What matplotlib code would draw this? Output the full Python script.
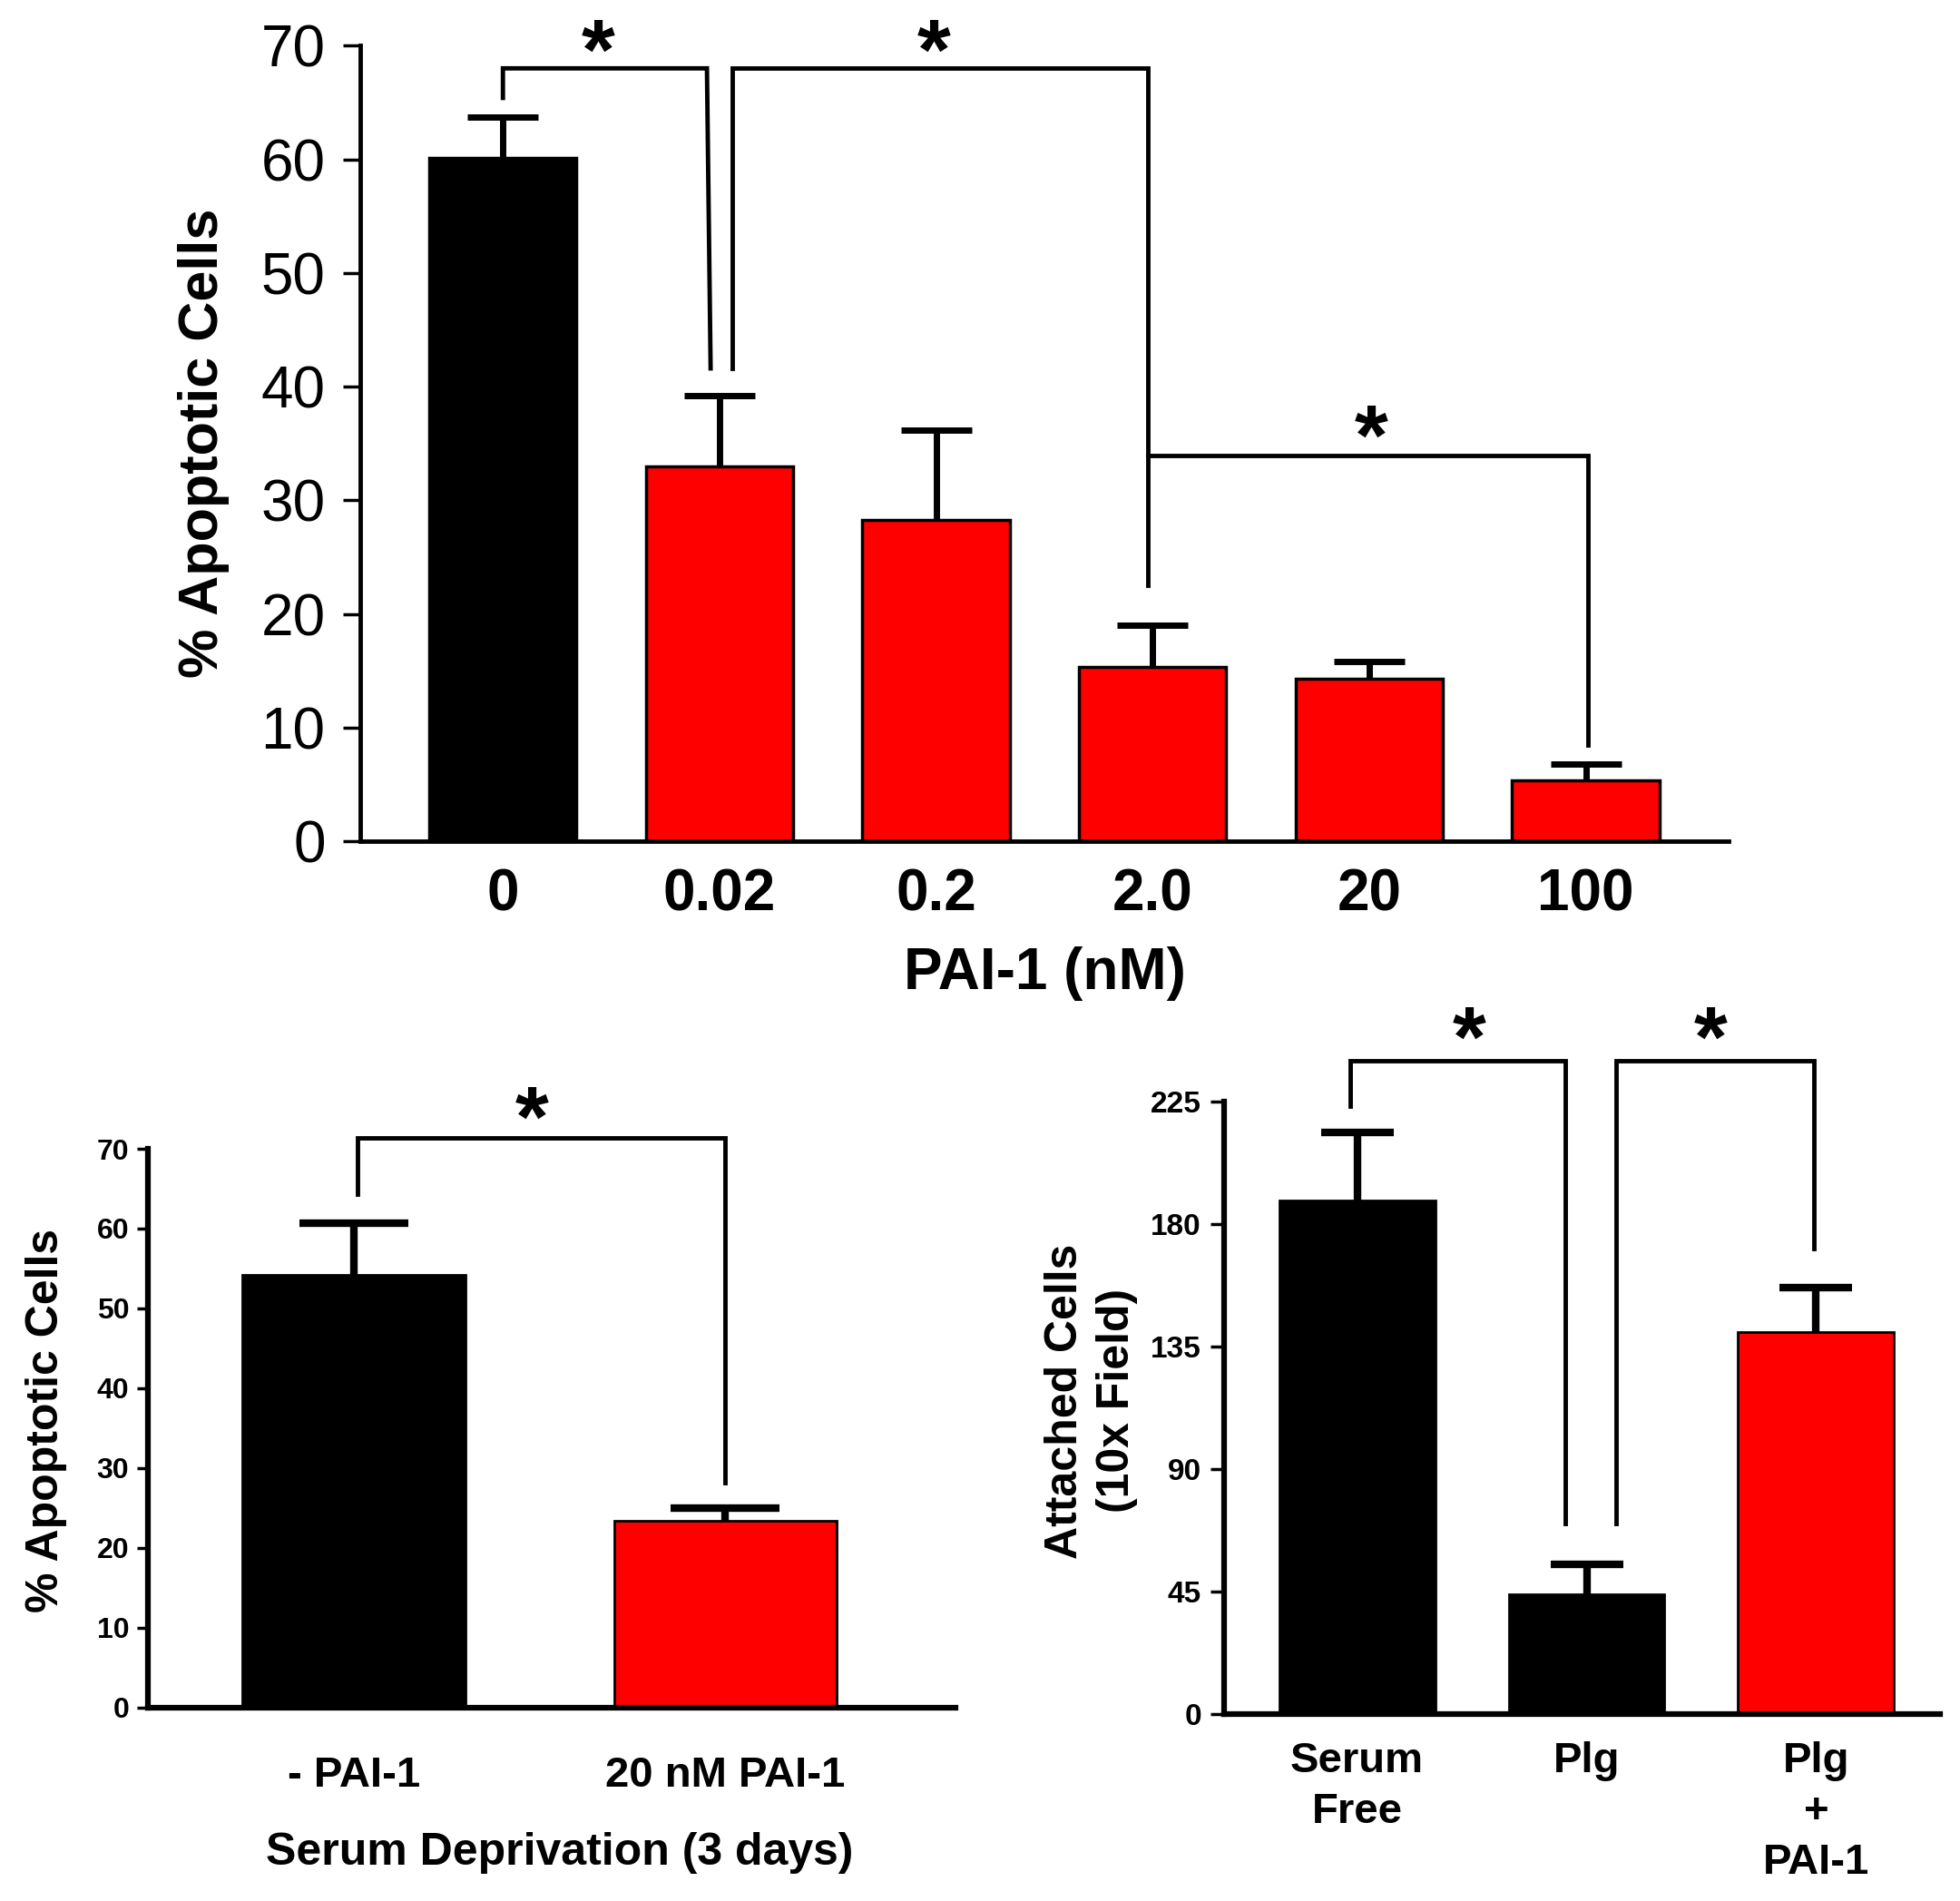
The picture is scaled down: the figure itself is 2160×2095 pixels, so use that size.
import matplotlib
matplotlib.use('Agg')
import matplotlib.pyplot as plt
import numpy as np

plt.rcParams['font.family'] = ['Liberation Sans', 'DejaVu Sans']

# top panel: apoptosis vs PAI-1 dose
conc_labels = ['0', '0.02', '0.2', '2.0', '20', '100']
apop_mean = [60.1, 33.0, 28.3, 15.3, 14.3, 5.35]
apop_err = [3.6, 6.2, 7.9, 3.7, 1.5, 1.45]

# bottom left: serum deprivation
serum_labels = ['- PAI-1', '20 nM PAI-1']
serum_mean = [54.2, 23.4]
serum_err = [6.5, 1.65]

# bottom right: attachment
attach_labels = ['Serum\nFree', 'Plg', 'Plg\n+\nPAI-1']
attach_mean = [188.5, 44.0, 140.2]
attach_err = [25.3, 11.0, 16.4]

RED = '#ff0000'


def draw_bars(ax, means, errs, colors, width, capsize, edge_lw, err_lw):
    x = np.arange(len(means))
    ax.bar(x, means, width, color=colors, edgecolor='black', linewidth=edge_lw, zorder=2)
    eb = ax.errorbar(x, means, yerr=[np.zeros(len(means)), errs], fmt='none',
                     ecolor='black', elinewidth=err_lw, capsize=capsize,
                     capthick=err_lw, zorder=3)
    eb[1][0].set_visible(False)  # only the upper cap


def bracket(ax, pts, lw):
    xs = [p[0] for p in pts]
    ys = [p[1] for p in pts]
    ax.plot(xs, ys, color='black', lw=lw, clip_on=False, zorder=4,
            solid_joinstyle='miter')


def star(ax, x, y, size):
    ax.annotate('*', (x, y), xytext=(0, -0.48 * size), textcoords='offset points',
                ha='center', va='baseline', fontsize=size, fontweight='bold',
                annotation_clip=False)


def style_axes(ax, spine_lw, tick_len, tick_w):
    ax.spines['top'].set_visible(False)
    ax.spines['right'].set_visible(False)
    ax.spines['left'].set_linewidth(spine_lw)
    ax.spines['bottom'].set_linewidth(spine_lw)
    ax.tick_params(axis='y', direction='out', length=tick_len, width=tick_w)


fig = plt.figure(figsize=(21.6, 20.95), dpi=100)

# ---- top panel ----
ax1 = fig.add_axes([0.184, 0.5575, 0.698, 0.4185])
draw_bars(ax1, apop_mean, apop_err, ['black'] + [RED] * 5, 0.68, 28, 2.5, 5)
ax1.set_xlim(-0.657, 5.66)
ax1.set_ylim(0, 70)
ax1.set_yticks(range(0, 71, 10))
ax1.set_xticks(range(len(conc_labels)))
ax1.set_xticklabels(conc_labels, fontsize=46, fontweight='bold')
ax1.tick_params(axis='x', length=0, pad=21)
ax1.tick_params(axis='y', labelsize=46, pad=14)
style_axes(ax1, 3.5, 14, 2.5)
ax1.set_ylabel('% Apoptotic Cells', fontsize=44, fontweight='bold')
ax1.yaxis.set_label_coords(-0.096, 0.5)
ax1.set_xlabel('PAI-1 (nM)', fontsize=46, fontweight='bold', va='top')
ax1.xaxis.set_label_coords(0.5, -0.132)

bracket(ax1, [(0, 65.4), (0, 68.0), (0.942, 68.0), (0.959, 41.6)], 3.5)
bracket(ax1, [(1.06, 41.6), (1.06, 68.0), (2.98, 68.0), (2.98, 22.5)], 3.5)
bracket(ax1, [(2.98, 33.9), (5.01, 33.9), (5.01, 8.5)], 3.5)
star(ax1, 0.44, 70.7, 68)
star(ax1, 1.99, 70.7, 68)
star(ax1, 4.01, 36.8, 68)

# ---- bottom left ----
ax2 = fig.add_axes([0.0755, 0.1017, 0.412, 0.294])
draw_bars(ax2, serum_mean, serum_err, ['black', RED], 0.60, 43, 2, 6)
ax2.set_xlim(-0.555, 1.62)
ax2.set_ylim(0, 70)
ax2.set_yticks(range(0, 71, 10))
ax2.set_xticks(range(len(serum_labels)))
ax2.set_xticklabels(serum_labels, fontsize=34, fontweight='bold')
ax2.tick_params(axis='x', length=0, pad=38)
ax2.tick_params(axis='y', labelsize=23, pad=6)
for t in ax2.get_yticklabels():
    t.set_fontweight('bold')
style_axes(ax2, 4.5, 9, 2.5)
ax2.set_ylabel('% Apoptotic Cells', fontsize=36, fontweight='bold')
ax2.yaxis.set_label_coords(-0.1, 0.513)
ax2.set_xlabel('Serum Deprivation (3 days)', fontsize=36, fontweight='bold', va='top')
ax2.xaxis.set_label_coords(0.51, -0.222)

bracket(ax2, [(0.01, 64.3), (0.01, 71.4), (1.0, 71.4), (1.0, 28.2)], 3.5)
star(ax2, 0.48, 75.5, 68)

# ---- bottom right ----
ax3 = fig.add_axes([0.6245, 0.0985, 0.3653, 0.322])
draw_bars(ax3, attach_mean, attach_err, ['black', 'black', RED], 0.68, 29, 2, 6)
ax3.set_xlim(-0.58, 2.54)
ax3.set_ylim(0, 225)
ax3.set_yticks(range(0, 226, 45))
ax3.set_xticks(range(len(attach_labels)))
ax3.set_xticklabels(attach_labels, fontsize=34, fontweight='bold', linespacing=1.35)
ax3.tick_params(axis='x', length=0, pad=22)
ax3.tick_params(axis='y', labelsize=24, pad=7)
for t in ax3.get_yticklabels():
    t.set_fontweight('bold')
style_axes(ax3, 4.5, 11, 2.5)
ax3.set_ylabel('Attached Cells\n(10x Field)', fontsize=36, fontweight='bold',
               linespacing=1.3)
ax3.yaxis.set_label_coords(-0.12, 0.511)

bracket(ax3, [(-0.03, 223.3), (-0.03, 240.1), (0.906, 240.1), (0.906, 70.0)], 3.5)
bracket(ax3, [(1.13, 70.0), (1.13, 240.1), (1.99, 240.1), (1.99, 170.9)], 3.5)
star(ax3, 0.49, 253.4, 68)
star(ax3, 1.54, 253.4, 68)

fig.savefig('out.png', dpi=100, facecolor='white')
